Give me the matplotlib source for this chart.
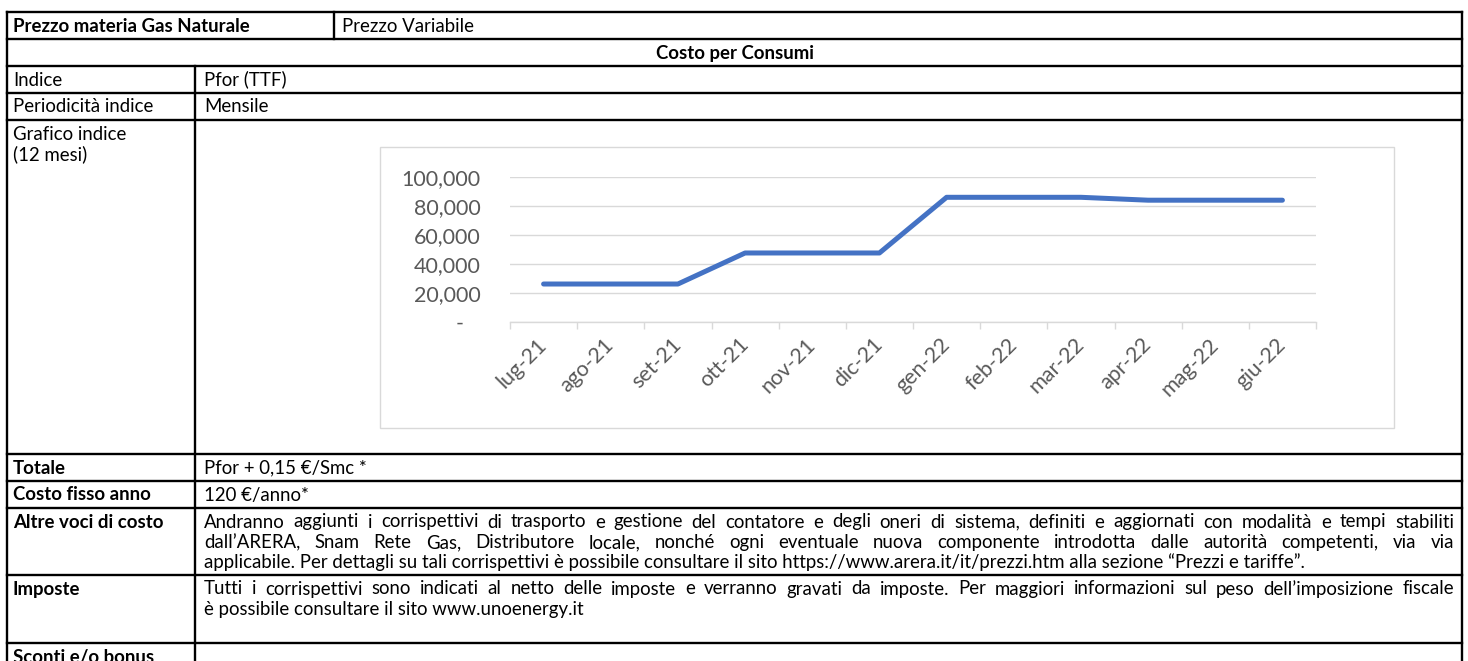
import matplotlib
matplotlib.use('Agg')
import matplotlib.pyplot as plt
from matplotlib.patches import Rectangle

# chart data
months = ['lug-21', 'ago-21', 'set-21', 'ott-21', 'nov-21', 'dic-21',
          'gen-22', 'feb-22', 'mar-22', 'apr-22', 'mag-22', 'giu-22']
pfor = [26200, 26200, 26200, 47600, 47600, 47600,
        86000, 86000, 86000, 84000, 84000, 84000]
y_ticks = [0, 20000, 40000, 60000, 80000, 100000]
y_labels = ['-   ', '20,000', '40,000', '60,000', '80,000', '100,000']

# table text
altre_lines = [
    'Andranno aggiunti i corrispettivi di trasporto e gestione del contatore e degli oneri di sistema, definiti e aggiornati con modalità e tempi stabiliti',
    'dall\u2019ARERA, Snam Rete Gas, Distributore locale, nonché ogni eventuale nuova componente introdotta dalle autorità competenti, via via',
    'applicabile. Per dettagli su tali corrispettivi è possibile consultare il sito https://www.arera.it/it/prezzi.htm alla sezione \u201cPrezzi e tariffe\u201d.',
]
imposte_lines = [
    'Tutti i corrispettivi sono indicati al netto delle imposte e verranno gravati da imposte. Per maggiori informazioni sul peso dell\u2019imposizione fiscale',
    'è possibile consultare il sito www.unoenergy.it',
]

plt.rcParams['font.family'] = 'Lato'

W, H = 1468, 661
fig = plt.figure(figsize=(W / 100, H / 100), dpi=100)
base = fig.add_axes([0, 0, 1, 1])
base.set_xlim(0, W)
base.set_ylim(H, 0)
base.axis('off')
renderer = fig.canvas.get_renderer()

# table geometry (pixels)
X0, X1 = 7, 1462
XC = 195          # label column divider
XR1 = 334         # divider on first row
rows = [12, 39, 66, 93, 120, 454, 481, 508, 575, 643]
LINE = 20.4
OFF = 19.5        # first baseline below the row top
lw = 1.7

for y in rows:
    base.plot([X0, X1], [y, y], color='k', lw=lw, solid_capstyle='projecting')
base.plot([X0, X0], [rows[0], H + 5], color='k', lw=lw)
base.plot([X1, X1], [rows[0], H + 5], color='k', lw=lw)
base.plot([XR1, XR1], [rows[0], rows[1]], color='k', lw=lw)
base.plot([XC, XC], [rows[2], H + 5], color='k', lw=lw)


def text_w(s, **kw):
    t = base.text(0, 0, s, **kw)
    w = t.get_window_extent(renderer).width
    t.remove()
    return w


# size the font from the width of the justified lines
tx0, tx1 = XC + 9, X1 - 8
widest = max(text_w(s, fontsize=10) for s in altre_lines[:2] + imposte_lines[:1])
fs = 10 * (tx1 - tx0) * 0.94 / widest


def put(x, top, s, bold=False, ha='left', k=0):
    base.text(x, top + OFF + k * LINE, s, fontsize=fs, ha=ha, va='baseline',
              fontweight='bold' if bold else 'normal', color='k')


def paragraph(lines, top):
    for k, s in enumerate(lines):
        y = top + OFF + k * LINE
        if k == len(lines) - 1:
            base.text(tx0, y, s, fontsize=fs, va='baseline')
            continue
        words = s.split(' ')
        ws = [text_w(w, fontsize=fs) for w in words]
        gap = (tx1 - tx0 - sum(ws)) / (len(words) - 1)
        x = tx0
        for w, wd in zip(words, ws):
            base.text(x, y, w, fontsize=fs, va='baseline')
            x += wd + gap


lx = 13
put(lx, rows[0], 'Prezzo materia Gas Naturale', bold=True)
put(XR1 + 8, rows[0], 'Prezzo Variabile')
put((X0 + X1) / 2, rows[1], 'Costo per Consumi', bold=True, ha='center')
put(lx, rows[2], 'Indice')
put(tx0, rows[2], 'Pfor (TTF)')
put(lx, rows[3], 'Periodicità indice')
put(tx0, rows[3], 'Mensile')
put(lx, rows[4], 'Grafico indice')
put(lx, rows[4], '(12 mesi)', k=1)
put(lx, rows[5], 'Totale', bold=True)
put(tx0, rows[5], 'Pfor + 0,15 €/Smc *')
put(lx, rows[6], 'Costo fisso anno', bold=True)
put(tx0, rows[6], '120 €/anno*')
put(lx, rows[7], 'Altre voci di costo', bold=True)
paragraph(altre_lines, rows[7])
put(lx, rows[8], 'Imposte', bold=True)
paragraph(imposte_lines, rows[8])
put(lx, rows[9], 'Sconti e/o bonus', bold=True)

# chart frame
base.add_patch(Rectangle((380, 147), 1394 - 380, 428 - 147, fill=False,
                         edgecolor='#d9d9d9', lw=1.0))

# chart plot area
gx0, gx1, gy0, gy1 = 510, 1316, 322, 177
ax = fig.add_axes([gx0 / W, 1 - gy0 / H, (gx1 - gx0) / W, (gy0 - gy1) / H])
ax.patch.set_visible(False)
ax.plot(range(len(months)), pfor, color='#4472C4', lw=3.6,
        solid_capstyle='round', solid_joinstyle='round', clip_on=False, zorder=3)
ax.set_xlim(-0.5, len(months) - 0.5)
ax.set_ylim(0, 100000)
ax.set_yticks(y_ticks)
ax.set_yticklabels(y_labels)
ax.yaxis.grid(True, color='#d9d9d9', lw=1.0)
ax.set_axisbelow(True)
ax.tick_params(axis='y', length=0, pad=21, labelsize=15.5, labelcolor='#595959')
ax.set_xticks(range(len(months)))
ax.set_xticklabels(months)
plt.setp(ax.get_xticklabels(), rotation=45, ha='right', va='center',
         rotation_mode='anchor')
ax.tick_params(axis='x', which='major', length=0, pad=14, labelsize=15.5,
               labelcolor='#595959')
ax.set_xticks([i - 0.5 for i in range(len(months) + 1)], minor=True)
ax.tick_params(axis='x', which='minor', length=5, width=1.0, color='#d9d9d9')
for s in ['top', 'right', 'left']:
    ax.spines[s].set_visible(False)
ax.spines['bottom'].set_color('#d9d9d9')
ax.spines['bottom'].set_linewidth(1.0)

fig.savefig('out.png', dpi=100)
